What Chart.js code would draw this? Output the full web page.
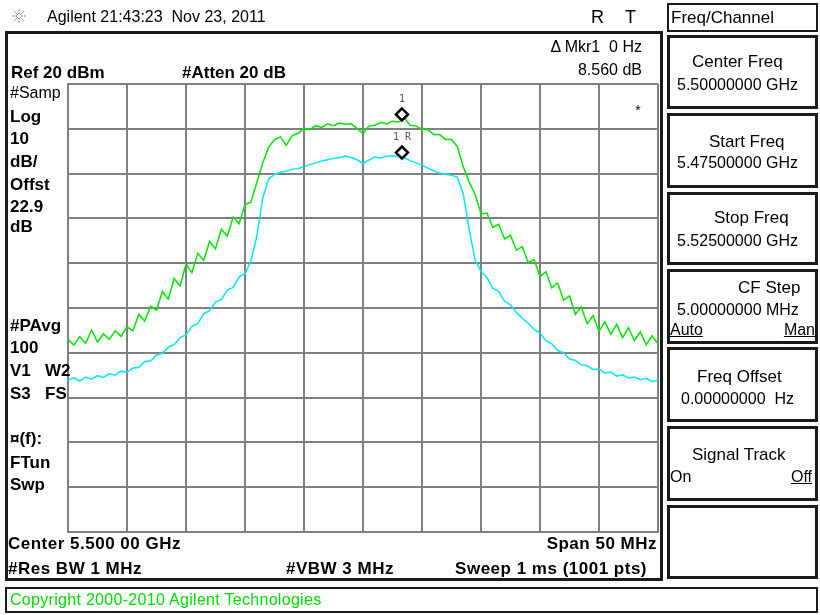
<!DOCTYPE html>
<html>
<head>
<meta charset="utf-8">
<script src="https://cdn.jsdelivr.net/npm/chart.js@4.4.1/dist/chart.umd.min.js"></script>
<style>
  html, body { margin: 0; padding: 0; background: #fff; }
  #wrap { position: relative; width: 820px; height: 615px; overflow: hidden; font-family: "Liberation Sans", Arial, sans-serif; color: #000; }
  #chart { position: absolute; left: 0; top: 0; }
  .t { position: absolute; white-space: pre; line-height: 1; }
  .b { font-weight: bold; }
  .bt { font-weight: bold; font-size: 17px; letter-spacing: 0.5px; }
  .box { position: absolute; box-sizing: border-box; border: 3px solid #1a1a1a; }
  .u { text-decoration: underline; }
</style>
</head>
<body>
<div id="wrap">
  <canvas id="chart" width="820" height="615"></canvas>

  <div class="box" style="left:5px;top:31px;width:658px;height:550px;"></div>
  <div class="box" style="left:667px;top:3px;width:151px;height:29px;border-width:2px;"></div>
  <div class="box" style="left:667px;top:35px;width:151px;height:74px;"></div>
  <div class="box" style="left:667px;top:113px;width:151px;height:75px;"></div>
  <div class="box" style="left:667px;top:192px;width:151px;height:73px;"></div>
  <div class="box" style="left:667px;top:269px;width:151px;height:75px;"></div>
  <div class="box" style="left:667px;top:347px;width:151px;height:75px;"></div>
  <div class="box" style="left:667px;top:426px;width:151px;height:75px;"></div>
  <div class="box" style="left:667px;top:505px;width:151px;height:74px;"></div>
  <div class="box" style="left:5px;top:587px;width:813px;height:26px;border-width:2px;"></div>

  <div class="t" style="left:47px;top:9px;font-size:16px;">Agilent 21:43:23  Nov 23, 2011</div>
  <div class="t" style="left:591px;top:8px;font-size:18px;">R</div>
  <div class="t" style="left:625px;top:8px;font-size:18px;">T</div>
  <div class="t" style="left:671px;top:9px;font-size:17px;">Freq/Channel</div>

  <div class="t" style="right:178px;top:39px;font-size:16px;">Δ Mkr1  0 Hz</div>
  <div class="t" style="right:178px;top:62px;font-size:16px;">8.560 dB</div>
  <div class="t b" style="left:11px;top:64px;font-size:17px;">Ref 20 dBm</div>
  <div class="t b" style="left:182px;top:64px;font-size:17px;">#Atten 20 dB</div>

  <div class="t" style="left:10px;top:85px;font-size:16px;">#Samp</div>
  <div class="t b" style="left:10px;top:108px;font-size:17px;">Log</div>
  <div class="t b" style="left:10px;top:130px;font-size:17px;">10</div>
  <div class="t b" style="left:10px;top:153px;font-size:17px;">dB/</div>
  <div class="t b" style="left:10px;top:176px;font-size:17px;">Offst</div>
  <div class="t b" style="left:10px;top:198px;font-size:17px;">22.9</div>
  <div class="t b" style="left:10px;top:218px;font-size:17px;">dB</div>
  <div class="t b" style="left:10px;top:317px;font-size:17px;">#PAvg</div>
  <div class="t b" style="left:10px;top:339px;font-size:17px;">100</div>
  <div class="t b" style="left:10px;top:362px;font-size:17px;">V1</div>
  <div class="t b" style="left:45px;top:362px;font-size:17px;">W2</div>
  <div class="t b" style="left:10px;top:385px;font-size:17px;">S3</div>
  <div class="t b" style="left:45px;top:385px;font-size:17px;">FS</div>
  <div class="t b" style="left:10px;top:430px;font-size:17px;">¤(f):</div>
  <div class="t b" style="left:10px;top:454px;font-size:17px;">FTun</div>
  <div class="t b" style="left:10px;top:476px;font-size:17px;">Swp</div>

  <div class="t bt" style="left:8px;top:535px;">Center 5.500 00 GHz</div>
  <div class="t bt" style="right:163px;top:535px;">Span 50 MHz</div>
  <div class="t bt" style="left:8px;top:560px;">#Res BW 1 MHz</div>
  <div class="t bt" style="left:286px;top:560px;">#VBW 3 MHz</div>
  <div class="t bt" style="right:173px;top:560px;">Sweep 1 ms (1001 pts)</div>

  <div class="t" style="left:10px;top:592px;font-size:16px;letter-spacing:0.3px;color:#00dd00;">Copyright 2000-2010 Agilent Technologies</div>

  <div class="t" style="left:692px;top:53px;font-size:17px;">Center Freq</div>
  <div class="t" style="left:677px;top:77px;font-size:16px;">5.50000000 GHz</div>
  <div class="t" style="left:709px;top:133px;font-size:17px;">Start Freq</div>
  <div class="t" style="left:677px;top:155px;font-size:16px;">5.47500000 GHz</div>
  <div class="t" style="left:714px;top:209px;font-size:17px;">Stop Freq</div>
  <div class="t" style="left:677px;top:233px;font-size:16px;">5.52500000 GHz</div>
  <div class="t" style="left:738px;top:279px;font-size:17px;">CF Step</div>
  <div class="t" style="left:677px;top:302px;font-size:16px;">5.00000000 MHz</div>
  <div class="t u" style="left:670px;top:322px;font-size:16px;">Auto</div>
  <div class="t u" style="right:5px;top:322px;font-size:16px;">Man</div>
  <div class="t" style="left:697px;top:368px;font-size:17px;">Freq Offset</div>
  <div class="t" style="left:681px;top:391px;font-size:16px;">0.00000000  Hz</div>
  <div class="t" style="left:692px;top:446px;font-size:17px;">Signal Track</div>
  <div class="t" style="left:670px;top:469px;font-size:16px;">On</div>
  <div class="t u" style="right:8px;top:469px;font-size:16px;">Off</div>
</div>

<script>
// sweep: -25 MHz .. +25 MHz around 5.5 GHz, 0.5 MHz per point
const startMHz = -25;
const stepMHz = 0.5;

// trace 1 (green), dBm
const trace1 = [
  -37.0, -38.3, -36.4, -37.9, -34.9, -37.6, -35.8, -37.0, -35.1, -36.3,
  -34.2, -35.1, -31.4, -32.9, -29.6, -30.5, -26.3, -28.0, -23.4, -25.1,
  -20.2, -22.1, -17.8, -19.4, -15.1, -16.8, -12.4, -14.0, -9.7, -11.2,
  -6.9, -6.4, -2.0, 2.3, 5.9, 7.6, 8.2, 6.3, 8.5, 9.0,
  10.1, 9.8, 10.7, 10.3, 11.1, 10.7, 11.3, 11.0, 11.1, 10.1,
  8.9, 10.6, 10.8, 11.4, 11.1, 11.7, 11.5, 12.4, 10.8, 10.6,
  9.9, 9.8, 8.7, 8.7, 7.6, 7.6, 6.0, 1.5, -1.9, -4.6,
  -9.0, -8.8, -12.0, -11.3, -14.6, -13.8, -17.1, -16.3, -19.9, -19.2,
  -23.0, -21.9, -25.5, -24.4, -28.3, -27.3, -31.4, -29.8, -33.5, -31.7,
  -35.2, -33.1, -35.9, -33.6, -36.6, -34.4, -37.3, -35.3, -38.2, -36.2,
  -38.0
];

// trace 2 (cyan), dBm
const trace2 = [
  -46.1, -45.6, -46.3, -45.4, -45.9, -45.1, -45.5, -44.7, -45.0, -44.1,
  -44.4, -43.4, -43.3, -42.0, -41.8, -40.5, -40.1, -38.7, -38.2, -36.6,
  -36.0, -34.1, -33.5, -31.3, -30.6, -28.7, -28.1, -26.0, -25.4, -23.1,
  -22.3, -19.5, -14.0, -5.5, -1.2, -0.2, 0.3, 0.5, 1.0, 1.1,
  1.6, 2.0, 2.4, 2.8, 3.1, 3.4, 3.6, 3.9, 3.6, 3.1,
  2.2, 3.0, 3.7, 3.5, 3.9, 4.0, 3.8, 3.6, 2.9, 2.4,
  1.9, 1.2, 0.6, 0.1, -0.1, -0.4, -0.8, -4.6, -12.5, -19.3,
  -21.8, -23.2, -25.6, -26.3, -28.5, -29.3, -31.0, -32.3, -33.4, -34.8,
  -35.6, -37.3, -38.0, -39.5, -40.0, -41.4, -41.7, -42.7, -42.9, -43.7,
  -43.6, -44.5, -44.3, -45.2, -44.9, -45.6, -45.4, -46.0, -45.7, -46.4,
  -46.1
];

// markers: [offset MHz, level dB, label]
const markerX = [3.3, 3.3];
const markerY = [13.2, 4.7];
const markerLabels = ['1', '1 R'];

const toPoints = arr => arr.map((v, i) => ({ x: startMHz + i * stepMHz, y: v }));

const overlay = {
  id: 'overlay',
  afterDatasetsDraw(chart) {
    const c = chart.ctx;
    const xs = chart.scales.x, ys = chart.scales.y;
    c.save();
    c.fillStyle = '#555';
    c.font = '10px "DejaVu Sans Mono", monospace';
    c.textAlign = 'center';
    c.textBaseline = 'middle';
    markerLabels.forEach((lab, i) => {
      c.fillText(lab, xs.getPixelForValue(markerX[i]), ys.getPixelForValue(markerY[i]) - 15);
    });
    c.fillStyle = '#000';
    c.font = '14px "Liberation Sans", Arial';
    c.fillText('*', chart.chartArea.right - 20, chart.chartArea.top + 27);
    c.restore();
  },
  afterDraw(chart) {
    // agilent spark logo
    const c = chart.ctx;
    c.save();
    c.strokeStyle = '#3a4fe0';
    c.lineWidth = 1;
    c.setLineDash([1.5, 1.5]);
    for (let k = 0; k < 8; k++) {
      const a = k * Math.PI / 4;
      c.beginPath();
      c.moveTo(19 + Math.cos(a) * 2, 16 + Math.sin(a) * 2);
      c.lineTo(19 + Math.cos(a) * 8, 16 + Math.sin(a) * 8);
      c.stroke();
    }
    c.restore();
  }
};

const ctx = document.getElementById('chart').getContext('2d');
const chart = new Chart(ctx, {
  type: 'line',
  data: {
    datasets: [
      {
        label: 'Markers',
        data: markerX.map((x, i) => ({ x: x, y: markerY[i] })),
        showLine: false,
        pointStyle: 'rectRot',
        pointRadius: 6,
        pointBorderWidth: 2.5,
        pointBorderColor: '#000',
        pointBackgroundColor: '#fff',
        order: 0
      },
      {
        label: 'Trace 1',
        data: toPoints(trace1),
        borderColor: '#00e600',
        borderWidth: 1.5,
        pointRadius: 0,
        tension: 0,
        order: 2
      },
      {
        label: 'Trace 2',
        data: toPoints(trace2),
        borderColor: '#00e8ff',
        borderWidth: 1.5,
        pointRadius: 0,
        tension: 0,
        order: 1
      }
    ]
  },
  options: {
    responsive: false,
    animation: false,
    devicePixelRatio: 1,
    layout: { padding: { left: 68, top: 84, right: 162, bottom: 83 } },
    plugins: { legend: { display: false }, tooltip: { enabled: false } },
    scales: {
      x: {
        type: 'linear',
        min: -25,
        max: 25,
        ticks: { display: false, stepSize: 5 },
        grid: { color: '#808080', lineWidth: 2, drawTicks: false },
        border: { color: '#808080', width: 2 }
      },
      y: {
        min: -80,
        max: 20,
        ticks: { display: false, stepSize: 10 },
        grid: { color: '#808080', lineWidth: 2, drawTicks: false },
        border: { color: '#808080', width: 2 }
      }
    }
  },
  plugins: [overlay]
});
</script>
</body>
</html>
